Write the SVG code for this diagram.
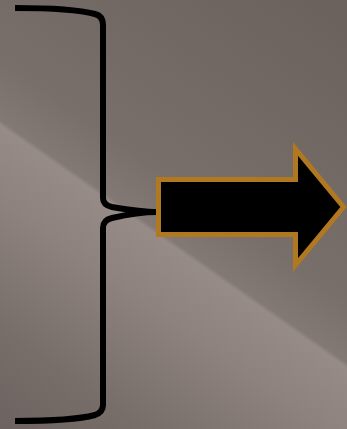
<svg xmlns="http://www.w3.org/2000/svg" width="347" height="429" viewBox="0 0 347 429">
<defs>
<linearGradient id="bg" gradientUnits="userSpaceOnUse" x1="322.6" y1="-18" x2="6.2" y2="434">
<stop offset="0" stop-color="#6a605c"/>
<stop offset="0.45" stop-color="#786e6a"/>
<stop offset="0.54" stop-color="#827874"/>
<stop offset="0.548" stop-color="#968b87"/>
<stop offset="0.66" stop-color="#8d827e"/>
<stop offset="0.85" stop-color="#776d69"/>
<stop offset="1" stop-color="#6c625f"/>
</linearGradient>
<style>
.brace{fill:none;stroke:#000;stroke-width:6;stroke-linejoin:round}
.arrow{fill:#000;stroke:#b07820;stroke-width:5;stroke-linejoin:miter}
</style>
</defs>
<rect width="347" height="429" fill="url(#bg)"/>
<g id="brace">
<path class="brace" d="M15,8 C50,8 80,10 95,14 Q103,16 103,25 L103,198 Q103,205 112,207 C130,210 145,212 157,212 C145,212 125,215 112,218 Q103,220 103,228 L103,405 Q103,412 95,415 C80,419 50,421 15,421"/>
</g>
<g id="arrow">
<path class="arrow" d="M158.5,179.5 L295.5,179.5 L295.5,149 L343.5,207 L295.5,265 L295.5,234.5 L158.5,234.5 Z"/>
</g>
<g id="connectors"/>
</svg>
